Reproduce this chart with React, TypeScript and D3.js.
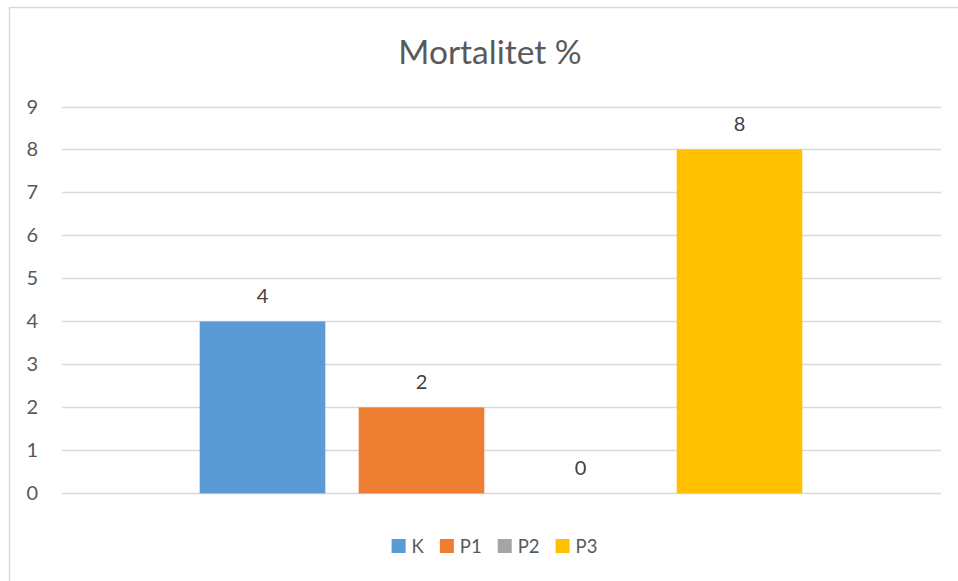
import { useEffect, useRef } from "react";
import { select, scaleLinear, scaleBand, range } from "d3";

// series (one category, four series) and their values
const seriesNames = ["K", "P1", "P2", "P3"];
const seriesValues = [4, 2, 0, 8];
const seriesColors = ["#5B9BD5", "#ED7D31", "#A5A5A5", "#FFC000"];
const yTicks = [0, 1, 2, 3, 4, 5, 6, 7, 8, 9];
const title = "Mortalitet %";

const width = 958;
const height = 581;
const plot = { left: 62, right: 941, top: 106.5, bottom: 493.4 };
const font = "Lato, 'Open Sans', sans-serif";

export default function App() {
  const ref = useRef<SVGSVGElement>(null);

  useEffect(() => {
    if (!ref.current) return;
    const svg = select(ref.current);
    svg.selectAll("*").remove();

    // chart frame
    svg
      .append("rect")
      .attr("x", 9.5)
      .attr("y", 7.5)
      .attr("width", width + 20)
      .attr("height", height + 20)
      .attr("fill", "#fff")
      .attr("stroke", "#d9d9d9")
      .attr("stroke-width", 1.5);

    // title
    svg
      .append("text")
      .attr("x", 490)
      .attr("y", 64)
      .attr("text-anchor", "middle")
      .attr("font-family", font)
      .attr("font-size", "33.5px")
      .attr("fill", "#595959")
      .text(title);

    const y = scaleLinear().domain([0, 9]).range([plot.bottom, plot.top]);
    const x = scaleBand()
      .domain(seriesNames)
      .range([183, 819])
      .paddingInner(0.21)
      .paddingOuter(0.105);

    // gridlines
    svg
      .append("g")
      .selectAll("line")
      .data(yTicks)
      .enter()
      .append("line")
      .attr("x1", plot.left)
      .attr("x2", plot.right)
      .attr("y1", (d) => Math.round(y(d)) + 0.5)
      .attr("y2", (d) => Math.round(y(d)) + 0.5)
      .attr("stroke", "#d9d9d9")
      .attr("stroke-width", 1.5);

    // y tick labels
    svg
      .append("g")
      .selectAll("text")
      .data(yTicks)
      .enter()
      .append("text")
      .attr("x", 38)
      .attr("y", (d) => y(d))
      .attr("dy", "0.35em")
      .attr("text-anchor", "end")
      .attr("font-family", font)
      .attr("font-size", "20px")
      .attr("fill", "#595959")
      .text((d) => d);

    // bars
    svg
      .append("g")
      .selectAll("rect")
      .data(seriesValues)
      .enter()
      .append("rect")
      .attr("x", (d, i) => x(seriesNames[i]) as number)
      .attr("y", (d) => y(d))
      .attr("width", x.bandwidth())
      .attr("height", (d) => y(0) - y(d))
      .attr("fill", (d, i) => seriesColors[i]);

    // data labels
    svg
      .append("g")
      .selectAll("text")
      .data(seriesValues)
      .enter()
      .append("text")
      .attr("x", (d, i) => (x(seriesNames[i]) as number) + x.bandwidth() / 2)
      .attr("y", (d) => y(d) - 18.5)
      .attr("text-anchor", "middle")
      .attr("font-family", font)
      .attr("font-size", "20px")
      .attr("fill", "#404040")
      .text((d) => d);

    // legend, laid out from measured text widths
    const legend = svg.append("g");
    const items = range(seriesNames.length).map((i) => {
      const g = legend.append("g");
      g.append("rect")
        .attr("width", 14)
        .attr("height", 14)
        .attr("y", 539)
        .attr("fill", seriesColors[i]);
      const t = g
        .append("text")
        .attr("x", 20)
        .attr("y", 553)
        .attr("font-family", font)
        .attr("font-size", "18.5px")
        .attr("fill", "#595959")
        .text(seriesNames[i]);
      const w = (t.node() as SVGTextElement).getComputedTextLength();
      return { g, w: 20 + w };
    });
    const gap = 16;
    const total = items.reduce((s, it) => s + it.w, 0) + gap * (items.length - 1);
    let cx = 494.5 - total / 2;
    items.forEach((it) => {
      it.g.attr("transform", `translate(${cx},0)`);
      cx += it.w + gap;
    });
  }, []);

  return (
    <svg
      ref={ref}
      width={width}
      height={height}
      style={{ position: "absolute", left: 0, top: 0, background: "#fff" }}
    ></svg>
  );
}
